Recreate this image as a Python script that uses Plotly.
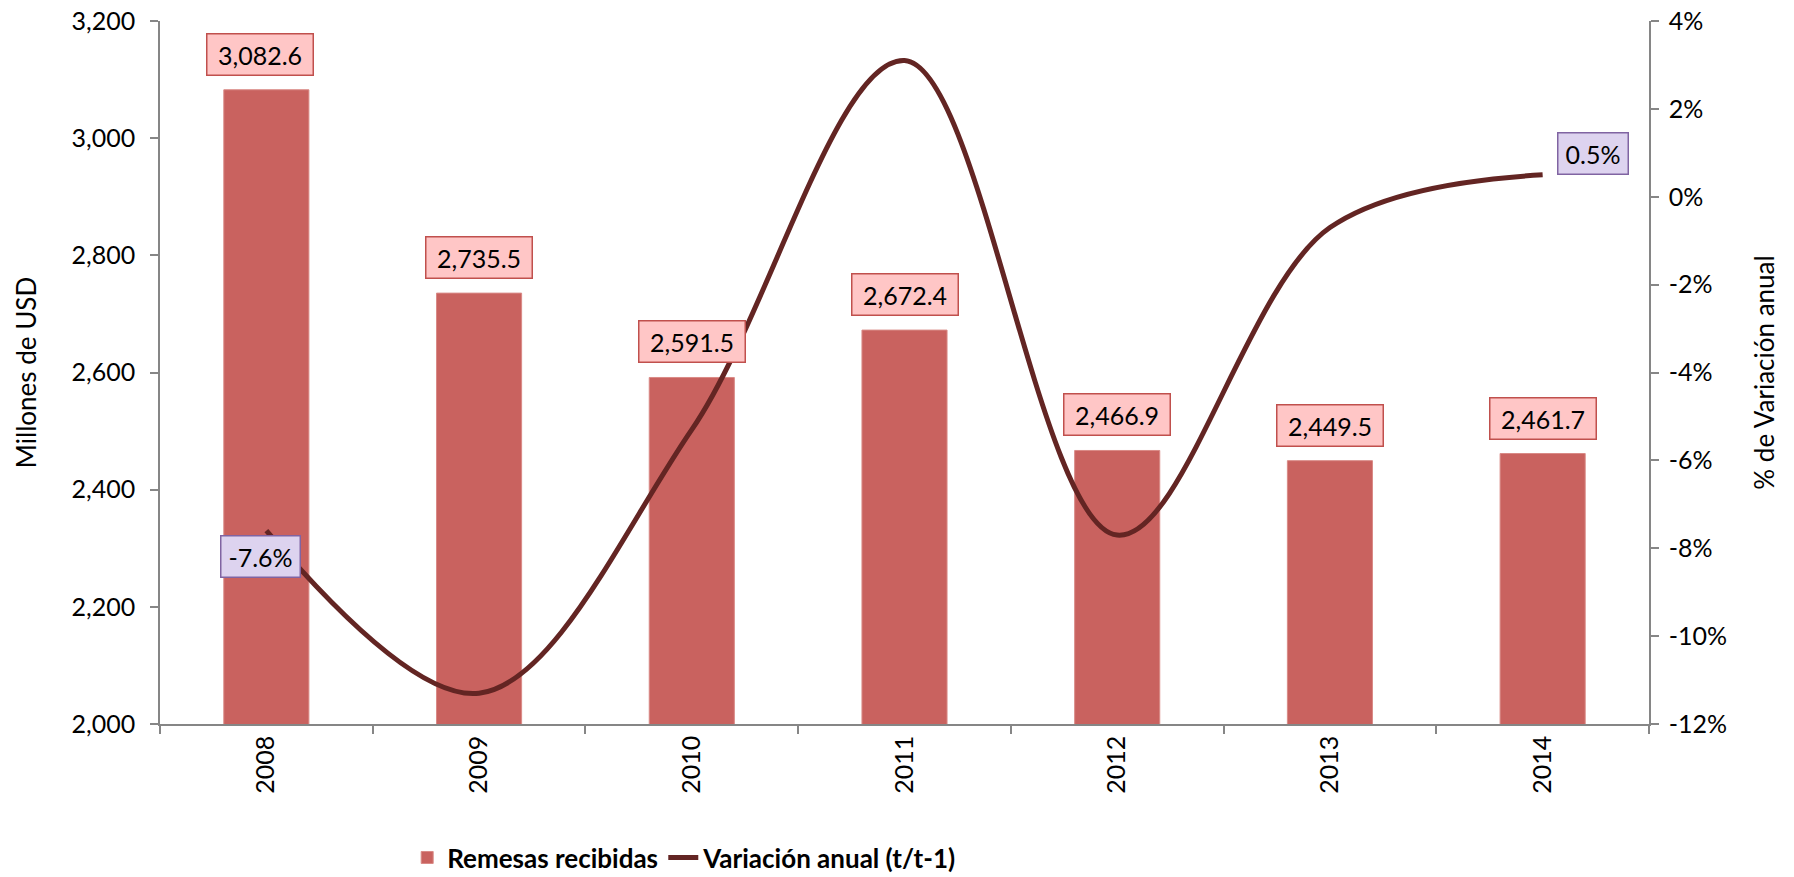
import plotly.graph_objects as go

years = ["2008", "2009", "2010", "2011", "2012", "2013", "2014"]
remesas = [3082.6, 2735.5, 2591.5, 2672.4, 2466.9, 2449.5, 2461.7]
variacion = [-7.6, -11.3, -5.3, 3.1, -7.7, -0.7, 0.5]
bar_labels = ["3,082.6", "2,735.5", "2,591.5", "2,672.4", "2,466.9", "2,449.5", "2,461.7"]
y1_ticks = [2000, 2200, 2400, 2600, 2800, 3000, 3200]
y2_ticks = [-12, -10, -8, -6, -4, -2, 0, 2, 4]
y2_ticktext = ["-12%", "-10%", "-8%", "-6%", "-4%", "-2%", "0%", "2%", "4%"]

FONT = "Lato, 'Open Sans', sans-serif"
BAR_COLOR = "#C9625F"
LINE_COLOR = "#632523"

fig = go.Figure()
fig.add_trace(go.Bar(
    x=years, y=remesas, name="Remesas recibidas",
    marker=dict(color=BAR_COLOR, line=dict(color="#D98A86", width=1)),
    width=0.4, yaxis="y", legend="legend",
))
fig.add_trace(go.Scatter(
    x=years, y=variacion, name="Variación anual (t/t-1)",
    mode="lines", line=dict(color=LINE_COLOR, width=5, shape="spline", smoothing=1.0),
    yaxis="y2", legend="legend2",
))

annotations = []
for i, (yr, v, lab) in enumerate(zip(years, remesas, bar_labels)):
    annotations.append(dict(
        x=i, y=v, xref="x", yref="y", text=lab, showarrow=False,
        xanchor="center", yanchor="bottom", yshift=14, xshift=(-6 if i == 0 else 0),
        width=97, height=32, align="center", valign="middle",
        font=dict(family=FONT, size=25, color="black"),
        bgcolor="#FFC6C6", bordercolor="#C0504D", borderwidth=1.5, borderpad=4,
    ))
annotations.append(dict(
    x=0, y=variacion[0], xref="x", yref="y2", text="-7.6%", showarrow=False,
    xanchor="center", yanchor="middle", xshift=-6, yshift=-26,
    width=70, height=32, align="center", valign="middle",
    font=dict(family=FONT, size=25, color="black"),
    bgcolor="#DDD3EF", bordercolor="#8064A2", borderwidth=1.5, borderpad=4,
))
annotations.append(dict(
    x=6, y=variacion[-1], xref="x", yref="y2", text="0.5%", showarrow=False,
    xanchor="center", yanchor="middle", xshift=50, yshift=21,
    width=61, height=32, align="center", valign="middle",
    font=dict(family=FONT, size=25, color="black"),
    bgcolor="#DDD3EF", bordercolor="#8064A2", borderwidth=1.5, borderpad=4,
))

axis_common = dict(
    showgrid=False, zeroline=False, showline=True, linecolor="#868686", linewidth=1.5,
    ticks="outside", ticklen=8, tickcolor="#868686", tickwidth=1.5,
    tickfont=dict(family=FONT, size=25, color="black"),
    ticklabeloverflow="allow",
)

legend_font = dict(family=FONT, size=26, color="black", weight="bold")

fig.update_layout(
    width=1794, height=877,
    margin=dict(l=160, r=145, t=21, b=153, autoexpand=False),
    paper_bgcolor="white", plot_bgcolor="white",
    font=dict(family=FONT, size=25, color="black"),
    showlegend=True,
    legend=dict(
        orientation="h", x=0.166, xanchor="left", y=-0.19, yanchor="middle",
        font=legend_font, bgcolor="rgba(0,0,0,0)",
    ),
    legend2=dict(
        orientation="h", x=0.338, xanchor="left", y=-0.19, yanchor="middle",
        font=legend_font, bgcolor="rgba(0,0,0,0)",
    ),
    xaxis=dict(
        **axis_common, type="category", tickson="boundaries", tickangle=-90,
        range=[-0.5, 6.5],
    ),
    yaxis=dict(
        **axis_common, range=[2000, 3200], tickvals=y1_ticks, tickformat=",",
        ticklabelstandoff=10,
        title=dict(text="Millones de USD", font=dict(family=FONT, size=26, color="black"), standoff=27),
    ),
    yaxis2=dict(
        **axis_common, overlaying="y", side="right", range=[-12, 4], tickvals=y2_ticks,
        ticktext=y2_ticktext, ticklabelstandoff=5,
        title=dict(text="% de Variación anual", font=dict(family=FONT, size=26, color="black"), standoff=30),
    ),
    annotations=annotations,
)

fig.write_html(
    "out.html",
    config={"displayModeBar": False},
    post_script="document.body.style.margin='0';document.body.style.overflow='hidden';",
)
